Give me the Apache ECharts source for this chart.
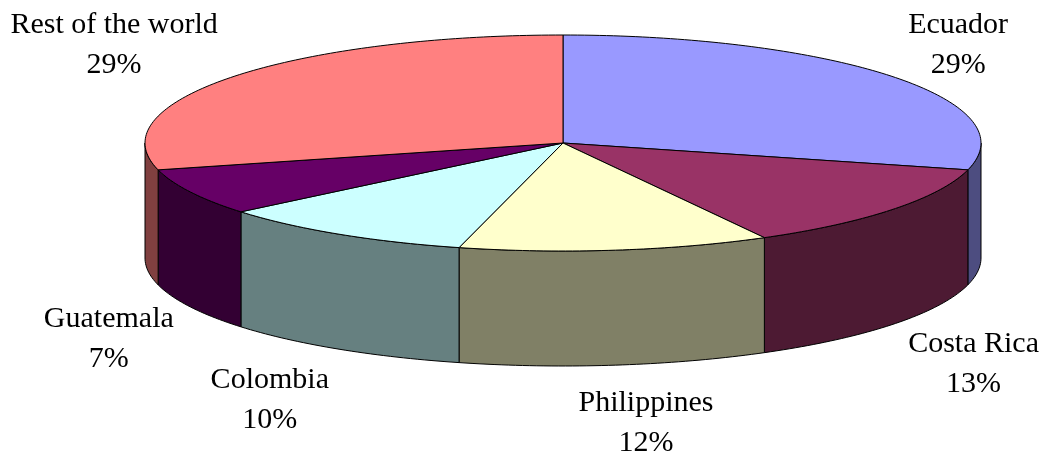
<!DOCTYPE html>
<html>
<head>
<meta charset="utf-8">
<script src="https://cdn.jsdelivr.net/npm/echarts@6/dist/echarts.min.js"></script>
<style>
    html, body {margin: 0; background: #fff;}
    #chart {width: 1040px; height: 453px;}
</style>
</head>
<body>
<div id="chart"></div>
<script>
// share of world exports, by country
const countries = ['Ecuador', 'Costa Rica', 'Philippines', 'Colombia', 'Guatemala', 'Rest of the world'];
const shares = [29, 13, 12, 10, 7, 29];
const topColors = ['#9999ff', '#993366', '#ffffcc', '#ccffff', '#660066', '#ff8080'];
const sideColors = ['#4d4d80', '#4d1a33', '#808066', '#668080', '#330033', '#804040'];

// pie geometry (top face ellipse + wall height)
const cx = 563, cy = 143, rx = 418, ry = 108, depth = 115;
const FONT = '30px "Liberation Serif", "Times New Roman", serif';

const total = shares.reduce((s, v) => s + v, 0);
let starts = [];
let acc = 0;
shares.forEach(v => {
    starts.push(acc / total * 360);
    acc += v;
});

// angle measured clockwise from 12 o'clock
function pt(deg, dy) {
    let r = deg * Math.PI / 180;
    return [cx + rx * Math.sin(r), cy - ry * Math.cos(r) + (dy || 0)];
}

function arc(a0, a1, dy) {
    let n = Math.max(2, Math.ceil(Math.abs(a1 - a0)));
    let out = [];
    for (let i = 0; i <= n; i++) {
        out.push(pt(a0 + (a1 - a0) * i / n, dy));
    }
    return out;
}

const measure = document.createElement('canvas').getContext('2d');
measure.font = FONT;

function labelEl(i) {
    let mid = starts[i] + shares[i] / total * 180;
    let r = mid * Math.PI / 180;
    let s = Math.sin(r), c = Math.cos(r);
    let pct = Math.round(shares[i] / total * 100) + '%';
    let w = Math.max(measure.measureText(countries[i]).width, measure.measureText(pct).width);
    let ax = cx + rx * 1.045 * s;
    let x = ax + w / 2 * Math.max(-1, Math.min(1, s / 0.3));
    let y, va;
    if (c > 0) {
        y = cy - 0.87 * ry * c;
        va = 'bottom';
    } else {
        y = cy + depth - 30 + 1.45 * ry * (-c);
        va = 'top';
    }
    return {
        type: 'text',
        x: x,
        y: y,
        z2: 20,
        style: {
            text: countries[i] + '\n' + pct,
            font: FONT,
            fill: '#000',
            align: 'center',
            verticalAlign: va,
            lineHeight: 40
        }
    };
}

function renderItem(params, api) {
    let i = params.dataIndex;
    let a0 = starts[i];
    let a1 = a0 + api.value(0) / total * 360;
    let children = [];

    // front wall (only the part facing the viewer, 90..270 deg)
    let w0 = Math.max(a0, 90), w1 = Math.min(a1, 270);
    if (w1 > w0) {
        let top = arc(w0, w1, 0);
        let bottom = arc(w1, w0, depth);
        children.push({
            type: 'polygon',
            z2: 1,
            shape: {points: top.concat(bottom)},
            style: {fill: sideColors[i], stroke: '#000', lineWidth: 1}
        });
    }

    // top face
    children.push({
        type: 'polygon',
        z2: 10,
        shape: {points: [[cx, cy]].concat(arc(a0, a1, 0))},
        style: {fill: topColors[i], stroke: '#000', lineWidth: 1, lineJoin: 'round'}
    });

    children.push(labelEl(i));
    return {type: 'group', children: children};
}

let chart = echarts.init(document.getElementById('chart'));
chart.setOption({
    animation: false,
    backgroundColor: '#fff',
    series: [{
        type: 'custom',
        coordinateSystem: 'none',
        silent: true,
        renderItem: renderItem,
        data: shares.map((v, i) => ({name: countries[i], value: [v]}))
    }]
});
</script>
</body>
</html>
